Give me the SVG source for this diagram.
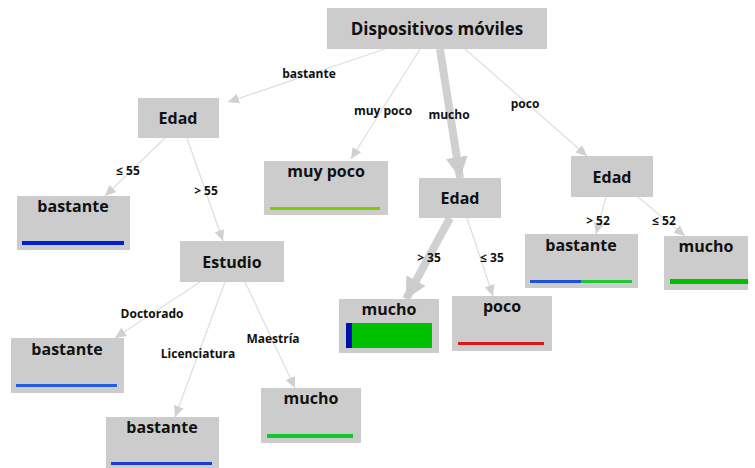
<svg xmlns="http://www.w3.org/2000/svg" width="755" height="468" viewBox="0 0 755 468">
<style>
.box{fill:#cccccc}
.nt{font-family:"Open Sans","DejaVu Sans",sans-serif;font-weight:bold;font-size:16px;fill:#111;text-anchor:middle}
.el{font-family:"Open Sans","DejaVu Sans",sans-serif;font-weight:bold;font-size:12px;fill:#111;text-anchor:middle}
.e{stroke:#e0e0e0;stroke-width:1.3;fill:none;marker-end:url(#a)}
.et{stroke:#d0d0d0;stroke-width:8;fill:none;marker-end:url(#ab)}
</style>
<defs>
<marker id="a" markerUnits="userSpaceOnUse" markerWidth="12" markerHeight="12" viewBox="0 0 12 12" refX="11" refY="6" orient="auto">
<path d="M0,1 L11,6 L0,11 Z" fill="#d0d0d0"/>
</marker>
<marker id="ab" markerUnits="userSpaceOnUse" markerWidth="22" markerHeight="24" viewBox="0 0 22 24" refX="21" refY="12" orient="auto">
<path d="M0,1 L21,12 L0,23 Z" fill="#cccccc"/>
</marker>
</defs>
<rect width="755" height="468" fill="#fff"/>
<g id="connectors">
<line class="e" x1="385" y1="49" x2="228" y2="102"/>
<line class="e" x1="420" y1="49" x2="351" y2="159"/>
<line class="et" x1="440" y1="49" x2="460" y2="178"/>
<line class="e" x1="465" y1="49" x2="587" y2="156"/>
<line class="e" x1="165" y1="138" x2="105" y2="196"/>
<line class="e" x1="187" y1="138" x2="223" y2="241"/>
<line class="et" x1="450" y1="218" x2="406" y2="299"/>
<line class="e" x1="467" y1="218" x2="493" y2="296"/>
<line class="e" x1="606" y1="197" x2="596" y2="234"/>
<line class="e" x1="638" y1="197" x2="685" y2="236"/>
<line class="e" x1="200" y1="282" x2="115" y2="338"/>
<line class="e" x1="225" y1="282" x2="175" y2="417"/>
<line class="e" x1="245" y1="282" x2="295" y2="388"/>
<text class="el" x="309" y="78">bastante</text>
<text class="el" x="383" y="115">muy poco</text>
<text class="el" x="449" y="119">mucho</text>
<text class="el" x="525" y="108">poco</text>
<text class="el" x="128" y="175">≤ 55</text>
<text class="el" x="206" y="195">&gt; 55</text>
<text class="el" x="598" y="225">&gt; 52</text>
<text class="el" x="664" y="225">≤ 52</text>
<text class="el" x="429" y="262">&gt; 35</text>
<text class="el" x="492" y="262">≤ 35</text>
<text class="el" x="152" y="318">Doctorado</text>
<text class="el" x="198" y="358">Licenciatura</text>
<text class="el" x="273" y="343">Maestría</text>
</g>
<g id="root">
<rect class="box" x="327" y="8" width="220" height="41"/>
<text class="nt" x="437" y="35" style="font-size:17px">Dispositivos móviles</text>
</g>
<g id="edad1">
<rect class="box" x="138" y="98" width="81" height="40"/>
<text class="nt" x="178" y="124">Edad</text>
</g>
<g id="leaf-bastante1">
<rect class="box" x="17" y="196" width="113" height="54"/>
<text class="nt" x="73" y="212">bastante</text>
<rect x="22" y="241" width="102" height="4" fill="#0020d0"/>
</g>
<g id="leaf-muypoco">
<rect class="box" x="264" y="161" width="124" height="54"/>
<text class="nt" x="326" y="177">muy poco</text>
<rect x="270" y="207" width="110" height="3" fill="#80cc00"/>
</g>
<g id="edad2">
<rect class="box" x="419" y="178" width="82" height="40"/>
<text class="nt" x="460" y="204">Edad</text>
</g>
<g id="edad3">
<rect class="box" x="571" y="156" width="82" height="41"/>
<text class="nt" x="612" y="183">Edad</text>
</g>
<g id="leaf-bastante2">
<rect class="box" x="525" y="234" width="113" height="54"/>
<text class="nt" x="581" y="251">bastante</text>
<rect x="530" y="280" width="51" height="3" fill="#2050d8"/>
<rect x="581" y="280" width="51" height="3" fill="#20c830"/>
</g>
<g id="leaf-mucho1">
<rect class="box" x="664" y="236" width="84" height="54"/>
<text class="nt" x="706" y="252">mucho</text>
<rect x="670" y="279" width="78" height="5" fill="#00c000"/>
</g>
<g id="estudio">
<rect class="box" x="180" y="241" width="104" height="41"/>
<text class="nt" x="232" y="268">Estudio</text>
</g>
<g id="leaf-mucho2">
<rect class="box" x="339" y="299" width="100" height="54"/>
<text class="nt" x="389" y="315">mucho</text>
<rect x="346" y="323" width="6" height="25" fill="#0010b0"/>
<rect x="352" y="323" width="80" height="25" fill="#00c000"/>
</g>
<g id="leaf-poco">
<rect class="box" x="452" y="296" width="100" height="55"/>
<text class="nt" x="502" y="312">poco</text>
<rect x="458" y="342" width="86" height="3" fill="#d81818"/>
</g>
<g id="leaf-bastante3">
<rect class="box" x="11" y="338" width="113" height="55"/>
<text class="nt" x="67" y="355">bastante</text>
<rect x="16" y="384" width="101" height="3" fill="#2060e0"/>
</g>
<g id="leaf-bastante4">
<rect class="box" x="106" y="417" width="113" height="51"/>
<text class="nt" x="162" y="433">bastante</text>
<rect x="111" y="462" width="101" height="3" fill="#1840d0"/>
</g>
<g id="leaf-mucho3">
<rect class="box" x="261" y="388" width="100" height="55"/>
<text class="nt" x="311" y="404">mucho</text>
<rect x="267" y="434" width="86" height="4" fill="#10c830"/>
</g>
</svg>
